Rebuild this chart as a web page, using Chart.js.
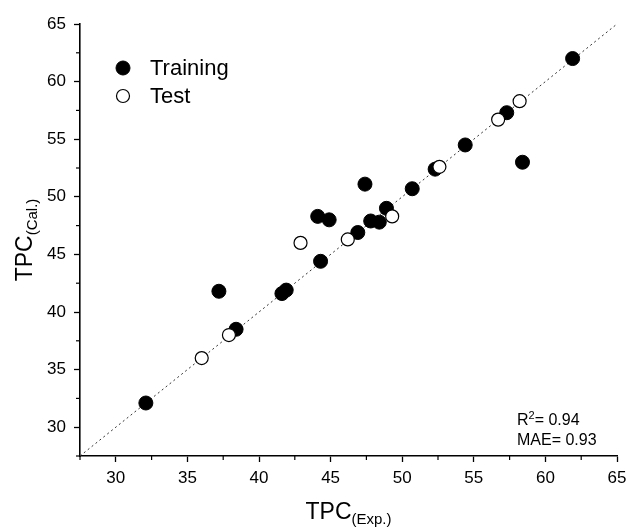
<!DOCTYPE html>
<html>
<head>
<meta charset="utf-8">
<script src="https://cdn.jsdelivr.net/npm/chart.js@4.4.1/dist/chart.umd.min.js"></script>
<style>
  body { margin: 0; background: #fff; }
  #wrap { width: 627px; height: 529px; }
</style>
</head>
<body>
<div id="wrap"><canvas id="chart" width="627" height="529"></canvas></div>
<script>
const trainExp = [32.1, 37.2, 38.4, 41.6, 41.9, 44.1, 44.9, 44.3, 46.9, 47.4, 47.8, 48.4, 48.9, 50.7, 52.3, 54.4, 57.3, 58.4, 61.9];
const trainCal = [32.1, 41.8, 38.5, 41.6, 41.9, 48.3, 48.0, 44.4, 46.9, 51.1, 47.9, 47.8, 49.0, 50.7, 52.4, 54.5, 57.3, 53.0, 62.0];
const testExp = [36.0, 37.9, 42.9, 46.2, 49.3, 52.6, 56.7, 58.2];
const testCal = [36.0, 38.0, 46.0, 46.3, 48.3, 52.6, 56.7, 58.3];

const axisRange = [27.5, 65];
const majorTicks = [30, 35, 40, 45, 50, 55, 60, 65];
const minorTicks = [27.5, 32.5, 37.5, 42.5, 47.5, 52.5, 57.5, 62.5];
const statLines = [["R", "2", "= 0.94"], ["MAE= 0.93", "", ""]];

const FONT = "'Liberation Sans', Arial, sans-serif";

function toPoints(xs, ys) {
  return xs.map((x, i) => ({ x: x, y: ys[i] }));
}

// Minor ticks, axis titles with subscripts, legend and stats text
const extrasPlugin = {
  id: "extras",
  afterDraw(chart) {
    const ctx = chart.ctx;
    const xs = chart.scales.x;
    const ys = chart.scales.y;
    const area = chart.chartArea;
    ctx.save();
    ctx.strokeStyle = "#000";
    ctx.lineWidth = 1.2;
    minorTicks.forEach(v => {
      const px = xs.getPixelForValue(v);
      ctx.beginPath();
      ctx.moveTo(px, area.bottom);
      ctx.lineTo(px, area.bottom + 4);
      ctx.stroke();
      const py = ys.getPixelForValue(v);
      ctx.beginPath();
      ctx.moveTo(area.left, py);
      ctx.lineTo(area.left - 4, py);
      ctx.stroke();
    });

    ctx.fillStyle = "#000";
    ctx.textBaseline = "alphabetic";
    // x title
    ctx.font = "23px " + FONT;
    const mainW = ctx.measureText("TPC").width;
    ctx.font = "15px " + FONT;
    const subW = ctx.measureText("(Exp.)").width;
    const cx = (area.left + area.right) / 2;
    let sx = cx - (mainW + subW) / 2;
    ctx.textAlign = "left";
    ctx.font = "23px " + FONT;
    ctx.fillText("TPC", sx, 519);
    ctx.font = "15px " + FONT;
    ctx.fillText("(Exp.)", sx + mainW, 524);

    // y title
    ctx.save();
    const cy = (area.top + area.bottom) / 2;
    ctx.translate(32, cy);
    ctx.rotate(-Math.PI / 2);
    ctx.font = "23px " + FONT;
    const mW = ctx.measureText("TPC").width;
    ctx.font = "15px " + FONT;
    const sW = ctx.measureText("(Cal.)").width;
    const st = -(mW + sW) / 2;
    ctx.font = "23px " + FONT;
    ctx.fillText("TPC", st, 0);
    ctx.font = "15px " + FONT;
    ctx.fillText("(Cal.)", st + mW, 5);
    ctx.restore();

    // legend
    const sets = chart.data.datasets.filter(d => d.legend);
    sets.forEach((d, i) => {
      const ly = 68 + i * 28;
      ctx.beginPath();
      ctx.arc(123, ly, d.pointRadius, 0, Math.PI * 2);
      ctx.fillStyle = d.backgroundColor;
      ctx.fill();
      ctx.lineWidth = d.borderWidth;
      ctx.strokeStyle = d.borderColor;
      ctx.stroke();
      ctx.fillStyle = "#000";
      ctx.font = "22px " + FONT;
      ctx.textBaseline = "middle";
      ctx.fillText(d.label, 150, ly + 1);
    });

    // stats
    ctx.textBaseline = "alphabetic";
    statLines.forEach((parts, i) => {
      const by = 425 + i * 20;
      let tx = 517;
      ctx.font = "16px " + FONT;
      ctx.fillText(parts[0], tx, by);
      tx += ctx.measureText(parts[0]).width;
      if (parts[1]) {
        ctx.font = "11px " + FONT;
        ctx.fillText(parts[1], tx, by - 6);
        tx += ctx.measureText(parts[1]).width;
      }
      ctx.font = "16px " + FONT;
      ctx.fillText(parts[2], tx, by);
    });
    ctx.restore();
  }
};

function axisOptions(isX) {
  return {
    type: "linear",
    min: axisRange[0],
    max: axisRange[1],
    afterBuildTicks: scale => {
      scale.ticks = majorTicks.map(v => ({ value: v }));
    },
    afterFit: scale => {
      if (isX) {
        scale.height = 73;
        scale.paddingRight = 10;
      } else {
        scale.width = 80;
      }
    },
    ticks: {
      color: "#000",
      font: { family: FONT, size: 17 },
      padding: isX ? 6 : 8
    },
    grid: {
      drawOnChartArea: false,
      tickLength: 6,
      tickColor: "#000",
      tickWidth: 1.3
    },
    border: { display: true, color: "#000", width: 1.6 }
  };
}

new Chart(document.getElementById("chart"), {
  type: "scatter",
  data: {
    datasets: [
      {
        label: "Training",
        legend: true,
        data: toPoints(trainExp, trainCal),
        backgroundColor: "#000",
        borderColor: "#000",
        borderWidth: 1,
        pointRadius: 7,
        pointHoverRadius: 7,
        order: 2
      },
      {
        label: "Test",
        legend: true,
        data: toPoints(testExp, testCal),
        backgroundColor: "#fff",
        borderColor: "#000",
        borderWidth: 1.2,
        pointRadius: 6.5,
        pointHoverRadius: 6.5,
        order: 1
      },
      {
        type: "line",
        label: "y = x",
        data: toPoints(axisRange, axisRange),
        borderColor: "#333",
        borderWidth: 1,
        borderDash: [2, 3],
        pointRadius: 0,
        fill: false,
        order: 3
      }
    ]
  },
  options: {
    responsive: false,
    animation: false,
    layout: { padding: { top: 24, right: 10, left: 0, bottom: 0 } },
    plugins: {
      legend: { display: false },
      tooltip: { enabled: false }
    },
    scales: {
      x: axisOptions(true),
      y: axisOptions(false)
    }
  },
  plugins: [extrasPlugin]
});
</script>
</body>
</html>
